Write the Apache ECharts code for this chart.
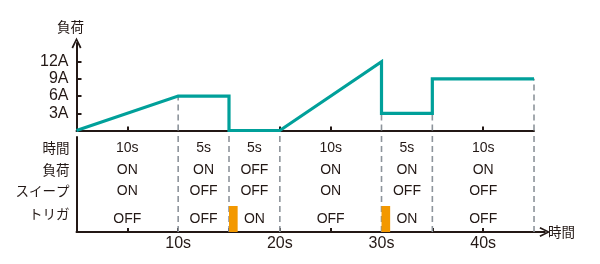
<!DOCTYPE html>
<html><head><meta charset="utf-8">
<script src="https://cdn.jsdelivr.net/npm/echarts@6/dist/echarts.min.js"></script>
<style>html,body{margin:0;padding:0;background:#fff}#c{width:600px;height:264px}</style>
</head><body><div id="c"></div>
<script>
// ---- data ----
var loadCurve = [[0,0],[10,6],[15,6],[15,0],[20,0],[30,12],[30,3],[35,3],[35,9],[45,9]];
var loadTicks = [3,6,9,12];
var loadTickLabels = ['3A','6A','9A','12A'];
var segStarts = [0,10,15,20,30,35];
var segEnds = [10,15,20,30,35,45];
var durations = ['10s','5s','5s','10s','5s','10s'];
var loadState = ['ON','ON','OFF','ON','ON','ON'];
var sweepState = ['ON','OFF','OFF','ON','OFF','OFF'];
var triggerState = ['OFF','OFF','ON','OFF','ON','OFF'];
var triggerPulses = [15,30];
var rowNames = ['時間','負荷','スイープ','トリガ'];
var timeTickLabels = [10,20,30,40];

// ---- layout/style ----
var INK = '#231815', TEAL = '#00a09a', ORANGE = '#f39800', DASH = '#8d949b';
var FONT = 'Liberation Sans, Arial, Noto Sans CJK JP';
var JP = 'Noto Sans CJK JP, Liberation Sans';
var rowLevels = [84, 62, 41, 18];      // label rows (lower grid units)
var valueLevels = [84, 62, 41, 13];    // value rows
var pulseWidth = 0.85, pulseHeight = 26;
var chevron = 'path://M0,10 L5,0 L10,10 L8.4,10.8 L5,3.4 L1.6,10.8 Z';

var boundaries = segEnds.slice();
function minLoadAt(t){var m=null;loadCurve.forEach(function(p){if(p[0]===t){m=(m===null)?p[1]:Math.min(m,p[1]);}});return m===null?0:m;}

var tableData = [];
var cols = [durations, loadState, sweepState, triggerState];
for (var r=0;r<4;r++){for (var i=0;i<segStarts.length;i++){tableData.push([(segStarts[i]+segEnds[i])/2, valueLevels[r], cols[r][i]]);}}

var chart = echarts.init(document.getElementById('c'));
chart.setOption({
  animation:false,
  grid:[
    {left:76.5, top:43, width:457.5, height:87.5},
    {left:76.5, top:137, width:468.4, height:95}
  ],
  xAxis:[
    {gridIndex:0, type:'value', min:0, max:45, interval:5,
     axisLine:{lineStyle:{color:INK,width:2}},
     axisTick:{inside:true,length:4,lineStyle:{color:INK,width:2}, customValues:[5,20,25,40]},
     axisLabel:{show:false}, splitLine:{show:false}},
    {gridIndex:1, type:'value', min:0, max:46.07, interval:5,
     axisLine:{lineStyle:{color:INK,width:2}, symbol:['none',chevron], symbolSize:[10,11]},
     axisTick:{inside:true,length:4,lineStyle:{color:INK,width:2}, customValues:[5,10,15,20,25,30,35,40]},
     axisLabel:{color:INK, fontSize:16, fontFamily:FONT, margin:4, customValues:timeTickLabels, formatter:function(v){return v+'s';}},
     splitLine:{show:false},
     name:'時間', nameLocation:'end', nameGap:3, nameTextStyle:{color:INK,fontSize:13.5,fontFamily:JP}}
  ],
  yAxis:[
    {gridIndex:0, type:'value', min:0, max:15.25,
     axisLine:{show:true,lineStyle:{color:INK,width:2}, symbol:['none',chevron], symbolSize:[10,11]},
     axisTick:{show:true,inside:true,length:5,lineStyle:{color:INK,width:2}, customValues:loadTicks},
     axisLabel:{color:INK, fontSize:16, fontFamily:FONT, margin:8, customValues:loadTicks,
       formatter:function(v){return loadTickLabels[loadTicks.indexOf(v)];}},
     splitLine:{show:false},
     name:'負荷', nameLocation:'end', nameGap:9, nameTextStyle:{color:INK,fontSize:13.5,fontFamily:JP,padding:[0,12,0,0]}},
    {gridIndex:1, type:'value', min:0, max:95,
     axisLine:{show:true,lineStyle:{color:INK,width:2}},
     axisTick:{show:false},
     axisLabel:{color:INK, fontSize:13.5, fontFamily:JP, margin:7, customValues:rowLevels,
       formatter:function(v){return rowNames[rowLevels.indexOf(v)];}},
     splitLine:{show:false}}
  ],
  series:[
    {type:'custom', xAxisIndex:0, yAxisIndex:0, clip:false, z:1,
     data: boundaries.map(function(t){return [t, minLoadAt(t)];}),
     renderItem:function(params, api){
       var a=api.coord([api.value(0),0]), b=api.coord([api.value(0),api.value(1)]);
       return {type:'line', shape:{x1:a[0],y1:a[1],x2:b[0],y2:b[1]}, style:{stroke:DASH,lineWidth:1.6,lineDash:[6,4]}};
     }},
    {type:'custom', xAxisIndex:1, yAxisIndex:1, clip:false, z:1,
     data: boundaries.map(function(t){return [t];}),
     renderItem:function(params, api){
       var a=api.coord([api.value(0),0]), b=api.coord([api.value(0),99]);
       return {type:'line', shape:{x1:a[0],y1:a[1],x2:b[0],y2:b[1]}, style:{stroke:DASH,lineWidth:1.6,lineDash:[6,4]}};
     }},
    {type:'line', xAxisIndex:0, yAxisIndex:0, data:loadCurve, symbol:'none', clip:false, z:5,
     lineStyle:{color:TEAL,width:3.2,join:'miter'}},
    {type:'custom', xAxisIndex:1, yAxisIndex:1, clip:false, z:3,
     data: triggerPulses.map(function(t){return [t];}),
     renderItem:function(params, api){
       var a=api.coord([api.value(0),0]), b=api.coord([api.value(0)+pulseWidth,pulseHeight]);
       return {type:'rect', shape:{x:a[0],y:b[1],width:b[0]-a[0],height:a[1]-b[1]}, style:{fill:ORANGE}};
     }},
    {type:'custom', xAxisIndex:1, yAxisIndex:1, clip:false, z:4,
     data: tableData,
     renderItem:function(params, api){
       var p=api.coord([api.value(0),api.value(1)]);
       return {type:'text', x:p[0], y:p[1], style:{text:tableData[params.dataIndex][2], fill:INK, font:'14px '+FONT, align:'center', verticalAlign:'middle'}};
     }}
  ]
});
</script></body></html>
